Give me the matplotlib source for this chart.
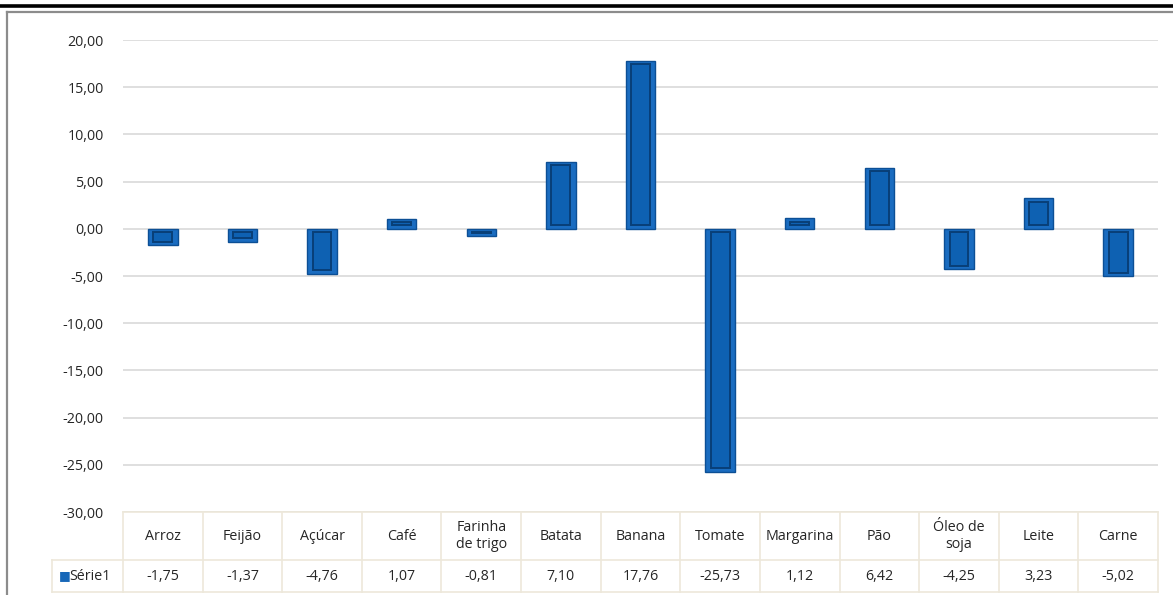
import matplotlib
matplotlib.use("Agg")
import matplotlib.pyplot as plt
import matplotlib.transforms as mtransforms
from matplotlib.lines import Line2D

categories = ["Arroz", "Feijão", "Açúcar", "Café", "Farinha\nde trigo", "Batata",
              "Banana", "Tomate", "Margarina", "Pão", "Óleo de\nsoja", "Leite", "Carne"]
values = [-1.75, -1.37, -4.76, 1.07, -0.81, 7.10, 17.76, -25.73, 1.12, 6.42, -4.25, 3.23, -5.02]
value_labels = ["-1,75", "-1,37", "-4,76", "1,07", "-0,81", "7,10", "17,76", "-25,73",
                "1,12", "6,42", "-4,25", "3,23", "-5,02"]
series_name = "Série1"
yticks = [20, 15, 10, 5, 0, -5, -10, -15, -20, -25, -30]
ytick_labels = ["20,00", "15,00", "10,00", "5,00", "0,00", "-5,00", "-10,00",
                "-15,00", "-20,00", "-25,00", "-30,00"]

plt.rcParams['font.family'] = ['Open Sans', 'DejaVu Sans']
FS = 10.3
W, H = 1173, 595
fig = plt.figure(figsize=(W / 100, H / 100), dpi=100)

def px(x0, y0, x1, y1):
    return [x0 / W, 1 - y1 / H, (x1 - x0) / W, (y1 - y0) / H]

ax = fig.add_axes(px(123, 40, 1158, 512))
n = len(categories)
xs = list(range(n))
ax.set_xlim(-0.5, n - 0.5)
ax.set_ylim(-30, 20)
ax.set_yticks(yticks)
ax.set_yticklabels(ytick_labels, fontsize=FS, color='#262626')
ax.tick_params(axis='y', length=0, pad=14)
ax.set_xticks([])
for s in ax.spines.values():
    s.set_visible(False)
ax.grid(axis='y', color='#d9d9d9', linewidth=1.2)
ax.set_axisbelow(True)

# outer bars
bw = 0.37
ax.bar(xs, values, width=bw, color='#1a6cc0', edgecolor='#0c4f95', linewidth=1.0, zorder=3)
# inner bevel
inset = 0.35
inner_b, inner_h = [], []
for v in values:
    if abs(v) > 2 * inset + 0.05:
        sgn = 1 if v > 0 else -1
        inner_b.append(sgn * inset)
        inner_h.append(v - 2 * sgn * inset)
    else:
        inner_b.append(v / 2)
        inner_h.append(0.0001)
ax.bar(xs, inner_h, bottom=inner_b, width=bw * 0.64, color='#0e61b2',
       edgecolor='#083f78', linewidth=1.4, zorder=4)

# data table
tr = mtransforms.blended_transform_factory(ax.transData, ax.transAxes)
hpx = 472.0
row1_bot = -48 / hpx
row2_bot = -80 / hpx
gridc = '#ede8da'
ax.add_line(Line2D([-0.5, n - 0.5], [0, 0], transform=tr, color=gridc, lw=1.2, clip_on=False))
ax.add_line(Line2D([-0.5, n - 0.5], [row1_bot, row1_bot], transform=tr, color=gridc, lw=1.2, clip_on=False))
ax.add_line(Line2D([-0.5, n - 0.5], [row2_bot, row2_bot], transform=tr, color=gridc, lw=1.2, clip_on=False))
legend_left = -0.5 - 71 / (1035 / n)
ax.add_line(Line2D([legend_left, -0.5], [row1_bot, row1_bot], transform=tr, color=gridc, lw=1.2, clip_on=False))
ax.add_line(Line2D([legend_left, -0.5], [row2_bot, row2_bot], transform=tr, color=gridc, lw=1.2, clip_on=False))
ax.add_line(Line2D([legend_left, legend_left], [row1_bot, row2_bot], transform=tr, color=gridc, lw=1.2, clip_on=False))
for i in range(n + 1):
    xv = i - 0.5
    ax.add_line(Line2D([xv, xv], [0, row2_bot], transform=tr, color=gridc, lw=1.2, clip_on=False))
for i in range(n):
    ax.text(xs[i], row1_bot / 2, categories[i], transform=tr, ha='center', va='center',
            fontsize=FS, color='#262626', linespacing=1.1, clip_on=False)
    ax.text(xs[i], (row1_bot + row2_bot) / 2, value_labels[i], transform=tr, ha='center',
            va='center', fontsize=FS, color='#262626', clip_on=False)
# legend key
fig.text(59 / W, 1 - 576 / H, "■", color='#1767b8', fontsize=9, ha='left', va='center',
         family='DejaVu Sans')
fig.text(69 / W, 1 - 576 / H, series_name, color='#262626', fontsize=FS, ha='left', va='center')

# frame lines
fig.add_artist(Line2D([0, 1], [1 - 6 / H, 1 - 6 / H], transform=fig.transFigure, color='black', lw=2.6))
fig.add_artist(Line2D([7 / W, 1], [1 - 12 / H, 1 - 12 / H], transform=fig.transFigure, color='#8c8c8c', lw=1.6))
fig.add_artist(Line2D([7 / W, 7 / W], [1 - 12 / H, 0], transform=fig.transFigure, color='#8c8c8c', lw=1.6))

fig.savefig("out.png", dpi=100)
